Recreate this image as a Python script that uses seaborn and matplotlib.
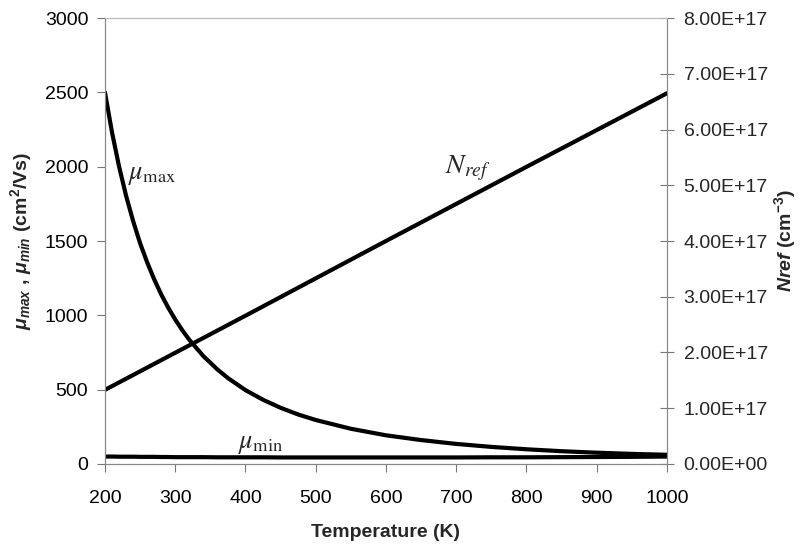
import numpy as np
import pandas as pd
import matplotlib
matplotlib.use("Agg")
import matplotlib.pyplot as plt
import seaborn as sns

# Temperature grid (K) and the mobility parameters vs temperature
temperature = [200, 210, 220, 230, 240, 250, 260, 270, 280, 290, 300, 310,
               320, 340, 360, 375, 400, 425, 450, 475, 500, 550, 600, 650,
               700, 750, 800, 850, 900, 950, 1000]
mu_max = [2500, 2231, 2002, 1805, 1635, 1485, 1357, 1243, 1141, 1052, 972,
          900, 836, 726, 636, 578, 497, 432, 378, 333, 296, 237, 193, 161,
          135, 115, 99, 86, 76, 68, 62]
mu_min = [50, 50, 49, 49, 49, 48, 48, 48, 47, 47, 46, 46,
          46, 46, 45, 45, 45, 45, 44, 44, 44, 44, 44, 44,
          44, 45, 45, 46, 47, 48, 50]

# Reference doping concentration (cm^-3), linear in temperature
nref_temperature = [200, 400, 600, 800, 1000]
nref = [1.33e17, 2.66e17, 4.0e17, 5.33e17, 6.65e17]

left_ticks = [0, 500, 1000, 1500, 2000, 2500, 3000]
right_ticks = [0, 1e17, 2e17, 3e17, 4e17, 5e17, 6e17, 7e17, 8e17]
x_ticks = [200, 300, 400, 500, 600, 700, 800, 900, 1000]

df = pd.DataFrame({"T": temperature, "mu_max": mu_max, "mu_min": mu_min})
df_n = pd.DataFrame({"T": nref_temperature, "nref": nref})

sns.set_theme(style="white")
plt.rcParams["font.family"] = ["Liberation Sans", "DejaVu Sans"]
plt.rcParams["mathtext.fontset"] = "custom"
plt.rcParams["mathtext.rm"] = "Liberation Sans:bold"
plt.rcParams["mathtext.it"] = "Liberation Sans:italic:bold"
plt.rcParams["mathtext.bf"] = "Liberation Sans:bold"

fig = plt.figure(figsize=(8.02, 5.46), dpi=100)
ax = fig.add_axes([0.1309, 0.1502, 0.7007, 0.8168])
ax2 = ax.twinx()

lw = 3.0
sns.lineplot(data=df, x="T", y="mu_max", ax=ax, color="black", lw=lw)
sns.lineplot(data=df, x="T", y="mu_min", ax=ax, color="black", lw=lw)
sns.lineplot(data=df_n, x="T", y="nref", ax=ax2, color="black", lw=lw)

ax.set_xlim(200, 1000)
ax.set_ylim(0, 3000)
ax2.set_ylim(0, 8e17)
ax.set_xticks(x_ticks)
ax.set_yticks(left_ticks)
ax2.set_yticks(right_ticks)
ax2.set_yticklabels(["{:.2E}".format(v) for v in right_ticks])

tick_fs = 14
ax.tick_params(axis="both", labelsize=tick_fs, colors="black")
ax.tick_params(axis="y", direction="out", length=6, width=0.8, color="#777777", pad=6, left=True)
ax.tick_params(axis="x", direction="out", length=6, width=0.8, color="#777777", pad=13, bottom=True)
ax2.tick_params(axis="y", direction="inout", length=10, width=0.8, color="#777777",
                labelsize=tick_fs, pad=7, right=True)

for a in (ax, ax2):
    for side in ("left", "right", "bottom", "top"):
        a.spines[side].set_color("#888888")
        a.spines[side].set_linewidth(0.8)
ax.spines["top"].set_color("#bbbbbb")
ax2.spines["top"].set_color("#bbbbbb")

ax.set_xlabel("Temperature (K)", fontsize=14, fontweight="bold", labelpad=12)
ax.set_ylabel(r"$\mu_{max}$ , $\mu_{min}$ (cm$^{\mathbf{2}}$/Vs)", fontsize=14,
              fontweight="bold", labelpad=8)
ax2.set_ylabel(r"$Nref$ (cm$^{\mathbf{-3}}$)", fontsize=14, fontweight="bold",
               rotation=90, labelpad=3)

# Curve labels in a Times-like face
ax.text(233, 1945, r"$\mu_{\mathrm{max}}$", fontsize=19, math_fontfamily="stix",
        ha="left", va="center")
ax.text(390, 135, r"$\mu_{\mathrm{min}}$", fontsize=19, math_fontfamily="stix",
        ha="left", va="center")
ax.text(684, 1990, r"$N_{ref}$", fontsize=20, math_fontfamily="stix",
        ha="left", va="center")

fig.savefig("out.png", dpi=100)
